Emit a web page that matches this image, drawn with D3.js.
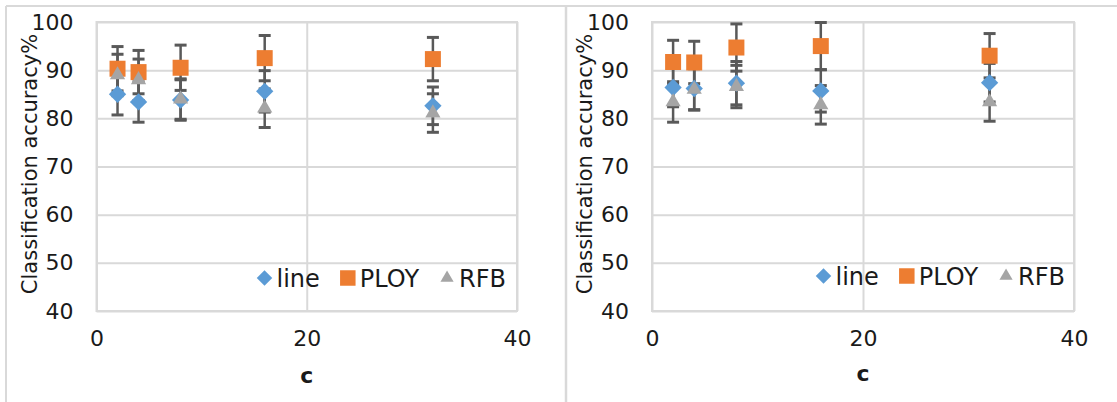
<!DOCTYPE html>
<html>
<head>
<meta charset="utf-8">
<script src="https://cdn.jsdelivr.net/npm/d3@7"></script>
<style>
  body { margin: 0; background: #fff; }
  svg { display: block; font-family: "DejaVu Sans", sans-serif; }
</style>
</head>
<body>
<div id="chart"></div>
<script>
// x values (c) shared by both panels
const cValues = [2, 4, 8, 16, 32];
const seriesNames = ["line", "PLOY", "RFB"];
const yTicks = [40, 50, 60, 70, 80, 90, 100];
const xTicks = [0, 20, 40];

// left panel
const lineA = [85.0, 83.4, 83.8, 85.6, 82.6];
const lineErrA = [4.3, 4.2, 4.2, 4.3, 3.9];
const ployA = [90.3, 89.6, 90.5, 92.5, 92.3];
const ployErrA = [4.6, 4.5, 4.7, 4.7, 4.5];
const rfbA = [89.0, 88.0, 84.0, 82.1, 81.1];
const rfbErrA = [4.3, 4.3, 4.2, 4.0, 4.0];

// right panel
const lineB = [86.4, 86.2, 87.3, 85.7, 87.4];
const lineErrB = [4.0, 4.4, 4.5, 4.4, 4.0];
const ployB = [91.7, 91.6, 94.7, 95.0, 93.0];
const ployErrB = [4.5, 4.4, 4.9, 4.9, 4.6];
const rfbB = [83.4, 86.0, 86.6, 82.8, 83.4];
const rfbErrB = [4.2, 4.3, 4.4, 4.0, 4.0];

const W = 1117, H = 402;
const plotTop = 22, plotBottom = 311;
const gridColor = "#d9d9d9";
const errColor = "#595959";
const textColor = "#1a1a1a";

const color = d3.scaleOrdinal()
  .domain(seriesNames)
  .range(["#5b9bd5", "#ed7d31", "#a5a5a5"]);

// marker shapes: diamond = rotated square, square, triangle
const shape = {
  line: { type: d3.symbolSquare, size: 150, rotate: 45 },
  PLOY: { type: d3.symbolSquare, size: 256, rotate: 0 },
  RFB: { type: d3.symbolTriangle, size: 100, rotate: 0 }
};
const legendShape = {
  line: { type: d3.symbolSquare, size: 120, rotate: 45 },
  PLOY: { type: d3.symbolSquare, size: 240, rotate: 0 },
  RFB: { type: d3.symbolTriangle, size: 75, rotate: 0 }
};

const panels = [
  { x0: 96.5, x1: 517, titleX: 37, legendRight: 506, legendY: 287, xTitleY: 383,
    series: [
      { key: "line", values: lineA, errors: lineErrA },
      { key: "PLOY", values: ployA, errors: ployErrA },
      { key: "RFB", values: rfbA, errors: rfbErrA }
    ] },
  { x0: 652, x1: 1074, titleX: 592, legendRight: 1065, legendY: 285, xTitleY: 381,
    series: [
      { key: "line", values: lineB, errors: lineErrB },
      { key: "PLOY", values: ployB, errors: ployErrB },
      { key: "RFB", values: rfbB, errors: rfbErrB }
    ] }
];

const svg = d3.select("#chart").append("svg")
  .attr("width", W)
  .attr("height", H);

// outer chart frames
svg.append("line").attr("x1", 6).attr("x2", W).attr("y1", 6).attr("y2", 6)
  .attr("stroke", gridColor).attr("stroke-width", 2);
svg.append("line").attr("x1", 6).attr("x2", 6).attr("y1", 6).attr("y2", H)
  .attr("stroke", gridColor).attr("stroke-width", 2);
svg.append("line").attr("x1", 566).attr("x2", 566).attr("y1", 6).attr("y2", H)
  .attr("stroke", gridColor).attr("stroke-width", 2.5);

const symbolPath = s => d3.symbol().type(s.type).size(s.size)();

panels.forEach(p => {
  const g = svg.append("g");

  const x = d3.scaleLinear().domain([0, 40]).range([p.x0, p.x1]);
  const y = d3.scaleLinear().domain([40, 100]).range([plotBottom, plotTop]);

  // gridlines
  const gy = g.append("g")
    .attr("transform", `translate(${p.x0},0)`)
    .call(d3.axisLeft(y).tickValues(yTicks).tickSize(-(p.x1 - p.x0)).tickFormat(""));
  const gx = g.append("g")
    .attr("transform", `translate(0,${plotBottom})`)
    .call(d3.axisBottom(x).tickValues(xTicks).tickSize(-(plotBottom - plotTop)).tickFormat(""));
  [gy, gx].forEach(a => {
    a.select(".domain").remove();
    a.selectAll("line").attr("stroke", gridColor).attr("stroke-width", 2);
  });
  g.append("rect")
    .attr("x", p.x0).attr("y", plotTop)
    .attr("width", p.x1 - p.x0).attr("height", plotBottom - plotTop)
    .attr("fill", "none").attr("stroke", gridColor).attr("stroke-width", 2);

  // tick labels
  const ly = g.append("g")
    .attr("transform", `translate(${p.x0},0)`)
    .call(d3.axisLeft(y).tickValues(yTicks).tickSize(0).tickPadding(23));
  const lx = g.append("g")
    .attr("transform", `translate(0,${plotBottom})`)
    .call(d3.axisBottom(x).tickValues(xTicks).tickSize(0).tickPadding(19));
  [ly, lx].forEach(a => {
    a.select(".domain").remove();
    a.selectAll("text")
      .attr("fill", textColor)
      .style("font-size", "22px")
      .style("font-family", "DejaVu Sans, sans-serif");
  });

  // axis titles
  g.append("text")
    .attr("transform", `translate(${p.titleX},164) rotate(-90)`)
    .attr("text-anchor", "middle")
    .attr("fill", textColor)
    .style("font-size", "21px")
    .text("Classification accuracy%");
  g.append("text")
    .attr("x", (p.x0 + p.x1) / 2)
    .attr("y", p.xTitleY)
    .attr("text-anchor", "middle")
    .attr("fill", textColor)
    .style("font-size", "22px")
    .style("font-weight", "bold")
    .text("c");

  // error bars (under the markers)
  const capW = 6;
  p.series.forEach(s => {
    const eg = g.append("g").attr("stroke", errColor).attr("stroke-width", 2.5);
    cValues.forEach((c, i) => {
      const v = s.values[i], e = s.errors[i];
      const cx = x(c);
      eg.append("line").attr("x1", cx).attr("x2", cx)
        .attr("y1", y(v - e)).attr("y2", y(v + e));
      [v - e, v + e].forEach(t => {
        eg.append("line").attr("x1", cx - capW).attr("x2", cx + capW)
          .attr("y1", y(t)).attr("y2", y(t)).attr("stroke-width", 3);
      });
    });
  });

  // markers
  p.series.forEach(s => {
    const sh = shape[s.key];
    g.append("g").selectAll("path")
      .data(cValues.map((c, i) => ({ c, v: s.values[i] })))
      .join("path")
      .attr("d", symbolPath(sh))
      .attr("transform", d => `translate(${x(d.c)},${y(d.v)}) rotate(${sh.rotate})`)
      .attr("fill", color(s.key));
  });

  // legend, laid out from the right
  let cursor = p.legendRight;
  seriesNames.slice().reverse().forEach(name => {
    const t = g.append("text")
      .attr("x", cursor).attr("y", p.legendY)
      .attr("text-anchor", "end")
      .attr("fill", textColor)
      .style("font-size", "24px")
      .text(name);
    const w = t.node().getComputedTextLength();
    const mx = cursor - w - 12;
    const sh = legendShape[name];
    g.append("path")
      .attr("d", symbolPath(sh))
      .attr("transform", `translate(${mx},${p.legendY - 9}) rotate(${sh.rotate})`)
      .attr("fill", color(name));
    cursor = mx - 28;
  });
});
</script>
</body>
</html>
